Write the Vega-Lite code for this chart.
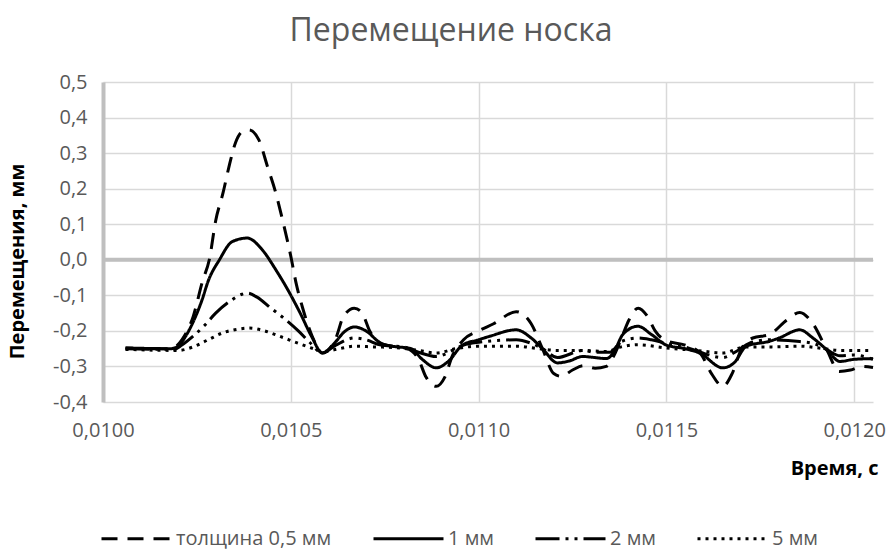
{
  "$schema": "https://vega.github.io/schema/vega-lite/v6.json",
  "width": 770,
  "height": 320,
  "autosize": {"type": "none"},
  "padding": {"left": 103, "top": 82, "right": 15, "bottom": 152},
  "background": "white",
  "config": {
    "locale": {"number": {"decimal": ",", "thousands": " ", "grouping": [3], "currency": ["", ""], "minus": "-"}},
    "view": {"stroke": null},
    "font": "Open Sans",
    "axis": {
      "labelFont": "Open Sans", "labelFontSize": 20, "labelColor": "#595959", "labelFlush": false,
      "ticks": false, "gridColor": "#d9d9d9", "gridWidth": 1.5,
      "titleFont": "Open Sans", "titleFontSize": 20, "titleFontWeight": "bold", "titleColor": "#000000"
    }
  },
  "title": {
    "text": "Перемещение носка", "font": "Open Sans", "fontSize": 32, "fontWeight": "normal",
    "color": "#595959", "anchor": "middle", "frame": "group", "dx": -37, "offset": 24
  },
  "datasets": {
    "d": [
      {"s": "толщина 0,5 мм", "t": 0.01006, "v": -0.248},
      {"s": "толщина 0,5 мм", "t": 0.01012, "v": -0.25},
      {"s": "толщина 0,5 мм", "t": 0.01018, "v": -0.25},
      {"s": "толщина 0,5 мм", "t": 0.01021, "v": -0.225},
      {"s": "толщина 0,5 мм", "t": 0.01024, "v": -0.16},
      {"s": "толщина 0,5 мм", "t": 0.010265, "v": -0.06},
      {"s": "толщина 0,5 мм", "t": 0.010283, "v": 0.0},
      {"s": "толщина 0,5 мм", "t": 0.0103, "v": 0.11},
      {"s": "толщина 0,5 мм", "t": 0.01032, "v": 0.19},
      {"s": "толщина 0,5 мм", "t": 0.010335, "v": 0.26},
      {"s": "толщина 0,5 мм", "t": 0.010353, "v": 0.33},
      {"s": "толщина 0,5 мм", "t": 0.01037, "v": 0.36},
      {"s": "толщина 0,5 мм", "t": 0.010389, "v": 0.365},
      {"s": "толщина 0,5 мм", "t": 0.010415, "v": 0.337},
      {"s": "толщина 0,5 мм", "t": 0.010438, "v": 0.262},
      {"s": "толщина 0,5 мм", "t": 0.01046, "v": 0.188},
      {"s": "толщина 0,5 мм", "t": 0.010478, "v": 0.112},
      {"s": "толщина 0,5 мм", "t": 0.0105, "v": 0.01},
      {"s": "толщина 0,5 мм", "t": 0.010515, "v": -0.07},
      {"s": "толщина 0,5 мм", "t": 0.01053, "v": -0.13},
      {"s": "толщина 0,5 мм", "t": 0.010557, "v": -0.215},
      {"s": "толщина 0,5 мм", "t": 0.010584, "v": -0.262},
      {"s": "толщина 0,5 мм", "t": 0.01062, "v": -0.22},
      {"s": "толщина 0,5 мм", "t": 0.01064, "v": -0.16},
      {"s": "толщина 0,5 мм", "t": 0.010669, "v": -0.136},
      {"s": "толщина 0,5 мм", "t": 0.01069, "v": -0.15},
      {"s": "толщина 0,5 мм", "t": 0.01071, "v": -0.2},
      {"s": "толщина 0,5 мм", "t": 0.01074, "v": -0.235},
      {"s": "толщина 0,5 мм", "t": 0.01077, "v": -0.243},
      {"s": "толщина 0,5 мм", "t": 0.01081, "v": -0.25},
      {"s": "толщина 0,5 мм", "t": 0.01084, "v": -0.28},
      {"s": "толщина 0,5 мм", "t": 0.01086, "v": -0.33},
      {"s": "толщина 0,5 мм", "t": 0.010887, "v": -0.356},
      {"s": "толщина 0,5 мм", "t": 0.01091, "v": -0.33},
      {"s": "толщина 0,5 мм", "t": 0.01093, "v": -0.27},
      {"s": "толщина 0,5 мм", "t": 0.01096, "v": -0.225},
      {"s": "толщина 0,5 мм", "t": 0.011, "v": -0.2},
      {"s": "толщина 0,5 мм", "t": 0.01104, "v": -0.18},
      {"s": "толщина 0,5 мм", "t": 0.0111, "v": -0.146},
      {"s": "толщина 0,5 мм", "t": 0.01114, "v": -0.18},
      {"s": "толщина 0,5 мм", "t": 0.01117, "v": -0.25},
      {"s": "толщина 0,5 мм", "t": 0.0112, "v": -0.32},
      {"s": "толщина 0,5 мм", "t": 0.01122, "v": -0.328},
      {"s": "толщина 0,5 мм", "t": 0.01125, "v": -0.31},
      {"s": "толщина 0,5 мм", "t": 0.01128, "v": -0.298},
      {"s": "толщина 0,5 мм", "t": 0.01131, "v": -0.305},
      {"s": "толщина 0,5 мм", "t": 0.01134, "v": -0.3},
      {"s": "толщина 0,5 мм", "t": 0.01136, "v": -0.27},
      {"s": "толщина 0,5 мм", "t": 0.011384, "v": -0.21},
      {"s": "толщина 0,5 мм", "t": 0.0114, "v": -0.17},
      {"s": "толщина 0,5 мм", "t": 0.011425, "v": -0.136},
      {"s": "толщина 0,5 мм", "t": 0.01145, "v": -0.16},
      {"s": "толщина 0,5 мм", "t": 0.01147, "v": -0.2},
      {"s": "толщина 0,5 мм", "t": 0.0115, "v": -0.228},
      {"s": "толщина 0,5 мм", "t": 0.01155, "v": -0.24},
      {"s": "толщина 0,5 мм", "t": 0.01159, "v": -0.263},
      {"s": "толщина 0,5 мм", "t": 0.01162, "v": -0.32},
      {"s": "толщина 0,5 мм", "t": 0.01165, "v": -0.356},
      {"s": "толщина 0,5 мм", "t": 0.011675, "v": -0.32},
      {"s": "толщина 0,5 мм", "t": 0.0117, "v": -0.25},
      {"s": "толщина 0,5 мм", "t": 0.01173, "v": -0.22},
      {"s": "толщина 0,5 мм", "t": 0.011775, "v": -0.21},
      {"s": "толщина 0,5 мм", "t": 0.01182, "v": -0.17},
      {"s": "толщина 0,5 мм", "t": 0.011855, "v": -0.148},
      {"s": "толщина 0,5 мм", "t": 0.01189, "v": -0.18},
      {"s": "толщина 0,5 мм", "t": 0.011927, "v": -0.253},
      {"s": "толщина 0,5 мм", "t": 0.01196, "v": -0.314},
      {"s": "толщина 0,5 мм", "t": 0.01199, "v": -0.31},
      {"s": "толщина 0,5 мм", "t": 0.01202, "v": -0.3},
      {"s": "толщина 0,5 мм", "t": 0.01205, "v": -0.303},

      {"s": "1 мм", "t": 0.01006, "v": -0.248},
      {"s": "1 мм", "t": 0.01018, "v": -0.25},
      {"s": "1 мм", "t": 0.0102, "v": -0.243},
      {"s": "1 мм", "t": 0.01022, "v": -0.215},
      {"s": "1 мм", "t": 0.01024, "v": -0.175},
      {"s": "1 мм", "t": 0.010264, "v": -0.112},
      {"s": "1 мм", "t": 0.01028, "v": -0.06},
      {"s": "1 мм", "t": 0.01031, "v": 0.0},
      {"s": "1 мм", "t": 0.010344, "v": 0.051},
      {"s": "1 мм", "t": 0.010384, "v": 0.061},
      {"s": "1 мм", "t": 0.010424, "v": 0.028},
      {"s": "1 мм", "t": 0.01046, "v": -0.028},
      {"s": "1 мм", "t": 0.010495, "v": -0.09},
      {"s": "1 мм", "t": 0.010525, "v": -0.15},
      {"s": "1 мм", "t": 0.010555, "v": -0.215},
      {"s": "1 мм", "t": 0.010584, "v": -0.262},
      {"s": "1 мм", "t": 0.01062, "v": -0.23},
      {"s": "1 мм", "t": 0.01064, "v": -0.205},
      {"s": "1 мм", "t": 0.01067, "v": -0.189},
      {"s": "1 мм", "t": 0.0107, "v": -0.2},
      {"s": "1 мм", "t": 0.01074, "v": -0.235},
      {"s": "1 мм", "t": 0.01077, "v": -0.243},
      {"s": "1 мм", "t": 0.01082, "v": -0.25},
      {"s": "1 мм", "t": 0.01085, "v": -0.28},
      {"s": "1 мм", "t": 0.010887, "v": -0.304},
      {"s": "1 мм", "t": 0.01092, "v": -0.285},
      {"s": "1 мм", "t": 0.010957, "v": -0.24},
      {"s": "1 мм", "t": 0.011, "v": -0.225},
      {"s": "1 мм", "t": 0.01103, "v": -0.215},
      {"s": "1 мм", "t": 0.0111, "v": -0.197},
      {"s": "1 мм", "t": 0.01114, "v": -0.22},
      {"s": "1 мм", "t": 0.01117, "v": -0.25},
      {"s": "1 мм", "t": 0.01121, "v": -0.29},
      {"s": "1 мм", "t": 0.01124, "v": -0.285},
      {"s": "1 мм", "t": 0.011277, "v": -0.272},
      {"s": "1 мм", "t": 0.01131, "v": -0.275},
      {"s": "1 мм", "t": 0.01134, "v": -0.278},
      {"s": "1 мм", "t": 0.01136, "v": -0.26},
      {"s": "1 мм", "t": 0.011384, "v": -0.21},
      {"s": "1 мм", "t": 0.011424, "v": -0.187},
      {"s": "1 мм", "t": 0.01146, "v": -0.21},
      {"s": "1 мм", "t": 0.0115, "v": -0.24},
      {"s": "1 мм", "t": 0.01155, "v": -0.25},
      {"s": "1 мм", "t": 0.01159, "v": -0.263},
      {"s": "1 мм", "t": 0.01165, "v": -0.304},
      {"s": "1 мм", "t": 0.01168, "v": -0.29},
      {"s": "1 мм", "t": 0.011713, "v": -0.243},
      {"s": "1 мм", "t": 0.011775, "v": -0.229},
      {"s": "1 мм", "t": 0.0118, "v": -0.22},
      {"s": "1 мм", "t": 0.011855, "v": -0.197},
      {"s": "1 мм", "t": 0.01189, "v": -0.22},
      {"s": "1 мм", "t": 0.011927, "v": -0.253},
      {"s": "1 мм", "t": 0.011962, "v": -0.286},
      {"s": "1 мм", "t": 0.012, "v": -0.28},
      {"s": "1 мм", "t": 0.01205, "v": -0.278},

      {"s": "2 мм", "t": 0.01006, "v": -0.25},
      {"s": "2 мм", "t": 0.01019, "v": -0.252},
      {"s": "2 мм", "t": 0.01021, "v": -0.24},
      {"s": "2 мм", "t": 0.01024, "v": -0.215},
      {"s": "2 мм", "t": 0.01027, "v": -0.185},
      {"s": "2 мм", "t": 0.0103, "v": -0.15},
      {"s": "2 мм", "t": 0.01034, "v": -0.115},
      {"s": "2 мм", "t": 0.01037, "v": -0.097},
      {"s": "2 мм", "t": 0.010385, "v": -0.094},
      {"s": "2 мм", "t": 0.01041, "v": -0.105},
      {"s": "2 мм", "t": 0.010447, "v": -0.136},
      {"s": "2 мм", "t": 0.01048, "v": -0.163},
      {"s": "2 мм", "t": 0.01052, "v": -0.2},
      {"s": "2 мм", "t": 0.01055, "v": -0.232},
      {"s": "2 мм", "t": 0.010584, "v": -0.262},
      {"s": "2 мм", "t": 0.01062, "v": -0.24},
      {"s": "2 мм", "t": 0.010669, "v": -0.22},
      {"s": "2 мм", "t": 0.0107, "v": -0.225},
      {"s": "2 мм", "t": 0.01074, "v": -0.24},
      {"s": "2 мм", "t": 0.0108, "v": -0.245},
      {"s": "2 мм", "t": 0.01084, "v": -0.26},
      {"s": "2 мм", "t": 0.010887, "v": -0.272},
      {"s": "2 мм", "t": 0.01093, "v": -0.255},
      {"s": "2 мм", "t": 0.01096, "v": -0.24},
      {"s": "2 мм", "t": 0.011, "v": -0.232},
      {"s": "2 мм", "t": 0.0111, "v": -0.225},
      {"s": "2 мм", "t": 0.01114, "v": -0.235},
      {"s": "2 мм", "t": 0.01117, "v": -0.25},
      {"s": "2 мм", "t": 0.01121, "v": -0.275},
      {"s": "2 мм", "t": 0.011277, "v": -0.255},
      {"s": "2 мм", "t": 0.01131, "v": -0.26},
      {"s": "2 мм", "t": 0.01135, "v": -0.26},
      {"s": "2 мм", "t": 0.01138, "v": -0.23},
      {"s": "2 мм", "t": 0.011424, "v": -0.22},
      {"s": "2 мм", "t": 0.01146, "v": -0.225},
      {"s": "2 мм", "t": 0.0115, "v": -0.235},
      {"s": "2 мм", "t": 0.01155, "v": -0.245},
      {"s": "2 мм", "t": 0.01159, "v": -0.26},
      {"s": "2 мм", "t": 0.01165, "v": -0.275},
      {"s": "2 мм", "t": 0.01169, "v": -0.255},
      {"s": "2 мм", "t": 0.01172, "v": -0.235},
      {"s": "2 мм", "t": 0.011775, "v": -0.225},
      {"s": "2 мм", "t": 0.011855, "v": -0.23},
      {"s": "2 мм", "t": 0.01189, "v": -0.235},
      {"s": "2 мм", "t": 0.011927, "v": -0.253},
      {"s": "2 мм", "t": 0.011962, "v": -0.27},
      {"s": "2 мм", "t": 0.012, "v": -0.268},
      {"s": "2 мм", "t": 0.01205, "v": -0.28},

      {"s": "5 мм", "t": 0.01006, "v": -0.252},
      {"s": "5 мм", "t": 0.0102, "v": -0.255},
      {"s": "5 мм", "t": 0.01024, "v": -0.245},
      {"s": "5 мм", "t": 0.01028, "v": -0.225},
      {"s": "5 мм", "t": 0.01032, "v": -0.205},
      {"s": "5 мм", "t": 0.01036, "v": -0.195},
      {"s": "5 мм", "t": 0.01039, "v": -0.192},
      {"s": "5 мм", "t": 0.01043, "v": -0.2},
      {"s": "5 мм", "t": 0.01047, "v": -0.215},
      {"s": "5 мм", "t": 0.01052, "v": -0.235},
      {"s": "5 мм", "t": 0.01056, "v": -0.25},
      {"s": "5 мм", "t": 0.010584, "v": -0.258},
      {"s": "5 мм", "t": 0.01063, "v": -0.25},
      {"s": "5 мм", "t": 0.01067, "v": -0.243},
      {"s": "5 мм", "t": 0.01072, "v": -0.245},
      {"s": "5 мм", "t": 0.01078, "v": -0.247},
      {"s": "5 мм", "t": 0.01084, "v": -0.255},
      {"s": "5 мм", "t": 0.010887, "v": -0.262},
      {"s": "5 мм", "t": 0.01094, "v": -0.25},
      {"s": "5 мм", "t": 0.011, "v": -0.243},
      {"s": "5 мм", "t": 0.0111, "v": -0.243},
      {"s": "5 мм", "t": 0.01116, "v": -0.25},
      {"s": "5 мм", "t": 0.01121, "v": -0.255},
      {"s": "5 мм", "t": 0.01128, "v": -0.255},
      {"s": "5 мм", "t": 0.01134, "v": -0.258},
      {"s": "5 мм", "t": 0.01138, "v": -0.245},
      {"s": "5 мм", "t": 0.011424, "v": -0.239},
      {"s": "5 мм", "t": 0.0115, "v": -0.248},
      {"s": "5 мм", "t": 0.01158, "v": -0.255},
      {"s": "5 мм", "t": 0.01165, "v": -0.262},
      {"s": "5 мм", "t": 0.01171, "v": -0.245},
      {"s": "5 мм", "t": 0.011775, "v": -0.245},
      {"s": "5 мм", "t": 0.011855, "v": -0.243},
      {"s": "5 мм", "t": 0.01192, "v": -0.25},
      {"s": "5 мм", "t": 0.01196, "v": -0.255},
      {"s": "5 мм", "t": 0.01205, "v": -0.255}
    ]
  },
  "layer": [
    {
      "data": {"values": [{"z": 0}]},
      "mark": {"type": "rule", "stroke": "#bfbfbf", "strokeWidth": 4},
      "encoding": {
        "y": {
          "field": "z", "type": "quantitative",
          "scale": {"domain": [-0.4, 0.5], "nice": false, "zero": false},
          "axis": {
            "values": [-0.4, -0.3, -0.2, -0.1, 0, 0.1, 0.2, 0.3, 0.4, 0.5], "format": ".1f",
            "domain": true, "domainColor": "#bfbfbf", "domainWidth": 4, "grid": true, "labelPadding": 16,
            "title": "Перемещения, мм", "titleX": -86, "titleY": 179, "titleAngle": 270,
            "titleAlign": "center", "titleBaseline": "middle"
          }
        }
      }
    },
    {
      "data": {"name": "d"},
      "mark": {"type": "line", "interpolate": "monotone", "strokeWidth": 3, "color": "#000000"},
      "encoding": {
        "x": {
          "field": "t", "type": "quantitative",
          "scale": {"domain": [0.01, 0.01205], "nice": false, "zero": false},
          "axis": {
            "values": [0.01, 0.0105, 0.011, 0.0115, 0.012], "format": ".4f",
            "domain": false, "grid": true, "labelPadding": 18,
            "title": "Время, с", "titleX": 775, "titleY": 72, "titleAlign": "right", "titleBaseline": "alphabetic"
          }
        },
        "y": {
          "field": "v", "type": "quantitative",
          "scale": {"domain": [-0.4, 0.5], "nice": false, "zero": false},
          "axis": {
            "values": [-0.4, -0.3, -0.2, -0.1, 0, 0.1, 0.2, 0.3, 0.4, 0.5], "format": ".1f",
            "domain": true, "domainColor": "#bfbfbf", "domainWidth": 4, "grid": true, "labelPadding": 16,
            "title": "Перемещения, мм", "titleX": -86, "titleY": 179, "titleAngle": 270,
            "titleAlign": "center", "titleBaseline": "middle"
          }
        },
        "strokeDash": {
          "field": "s", "type": "nominal",
          "scale": {
            "domain": ["толщина 0,5 мм", "1 мм", "2 мм", "5 мм"],
            "range": [[16, 10], [1, 0], [24, 6, 3, 6, 3, 6], [3, 5]]
          },
          "legend": {
            "title": null, "orient": "none", "direction": "horizontal",
            "legendX": -3, "legendY": 420,
            "symbolType": "stroke", "symbolSize": 4900, "symbolStrokeWidth": 3, "symbolStrokeColor": "#000000",
            "labelFont": "Open Sans", "labelFontSize": 20, "labelColor": "#595959",
            "labelOffset": 3, "columnPadding": 35
          }
        }
      }
    }
  ]
}
